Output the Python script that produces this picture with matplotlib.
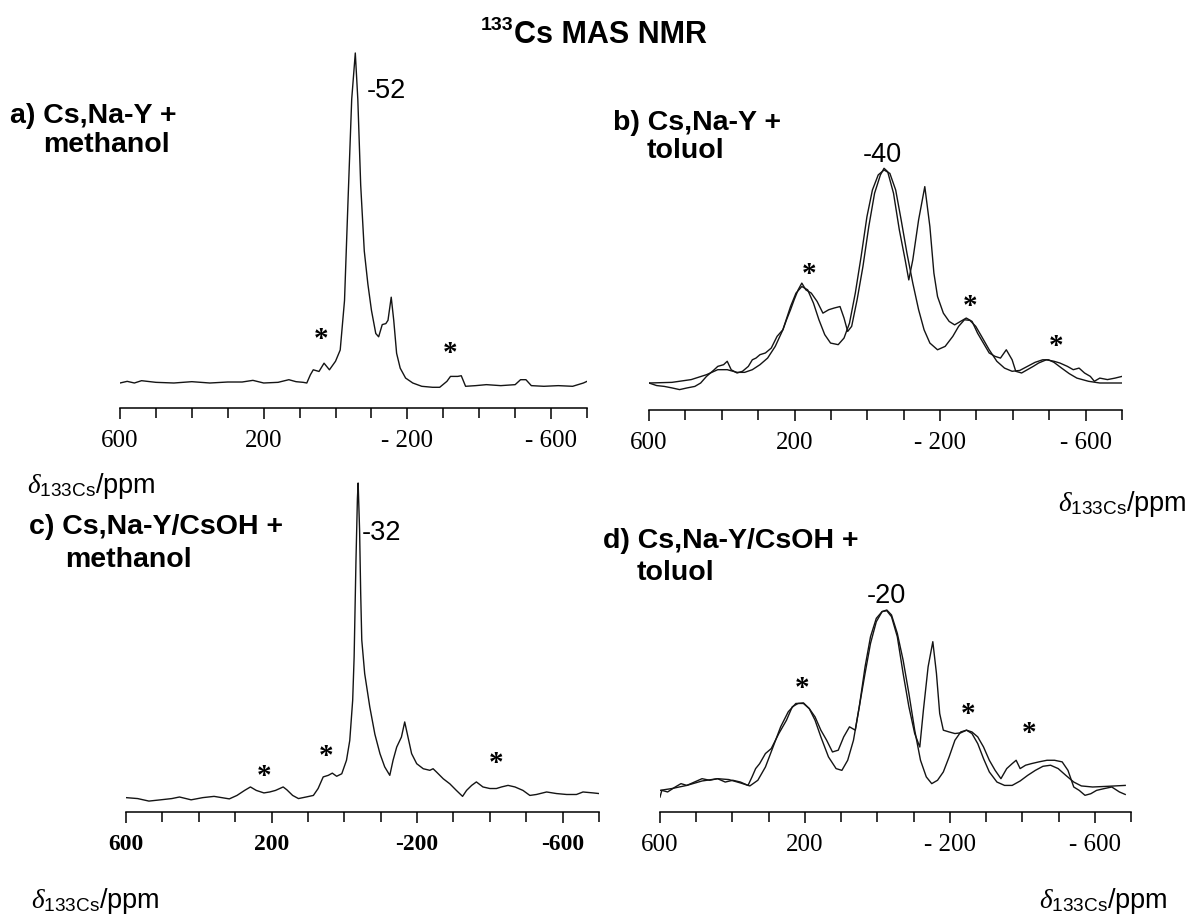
import numpy as np
import matplotlib.pyplot as plt

plt.rcParams['font.family'] = ['Liberation Sans', 'DejaVu Sans']
plt.rcParams['mathtext.fontset'] = 'custom'
plt.rcParams['mathtext.rm'] = 'Liberation Sans'
plt.rcParams['mathtext.it'] = 'Liberation Serif:italic'

W, H = 1195, 917

# a) Cs,Na-Y + methanol
a_ppm = [600, 580, 560, 540, 500, 450, 400, 350, 300, 260, 230, 200, 160, 130, 110, 90, 80, 70, 62, 46,
         32, 17, 0, -13, -25, -35, -45, -55, -62, -70, -80, -90, -100, -112, -120, -130, -140, -146, -155, -162,
         -170, -180, -195, -215, -240, -270, -290, -310, -320, -340, -350, -362, -390, -420, -460, -500, -515, -530, -545, -580,
         -620, -660, -690, -700]
a_int = [0.0, 0.005, 0.0, 0.007, 0.002, 0.0, 0.004, 0.0, 0.003, 0.003, 0.008, 0.0, 0.002, 0.01, 0.004, 0.002, 0.0, 0.025, 0.04, 0.035,
         0.06, 0.04, 0.066, 0.10, 0.25, 0.56, 0.86, 1.0, 0.86, 0.6, 0.4, 0.30, 0.22, 0.15, 0.14, 0.177, 0.18, 0.19, 0.26, 0.19,
         0.09, 0.045, 0.015, 0.0, -0.01, -0.013, -0.013, 0.005, 0.02, 0.02, 0.022, -0.01, -0.008, -0.005, -0.008, -0.005, 0.01, 0.01, -0.008, -0.01,
         -0.008, -0.01, 0.0, 0.005]

# b) Cs,Na-Y + toluol (experiment and fit)
b_ppm = [600, 579, 558, 537, 516, 495, 474, 458, 442, 421, 411, 395, 385, 374, 358, 343, 327, 316, 306, 295,
         280, 264, 248, 232, 222, 211, 201, 190, 180, 169, 154, 138, 122, 106, 91, 75, 64, 54, 43, 28,
         12, -4, -20, -36, -46, -56, -72, -88, -104, -114, -125, -141, -158, -172, -183, -193, -209, -225, -240, -256,
         -272, -288, -303, -319, -335, -351, -366, -382, -398, -408, -424, -440, -456, -471, -492, -513, -529, -550, -566, -582,
         -597, -613, -624, -639, -660, -681, -700]
b_int = [0.0, -0.012, -0.016, -0.023, -0.031, -0.023, -0.016, 0.0, 0.031, 0.062, 0.078, 0.086, 0.102, 0.062, 0.047, 0.055, 0.078, 0.109, 0.117, 0.133,
         0.141, 0.164, 0.219, 0.25, 0.297, 0.344, 0.391, 0.4375, 0.469, 0.4375, 0.422, 0.383, 0.328, 0.344, 0.352, 0.359, 0.305, 0.242, 0.266, 0.391,
         0.547, 0.734, 0.891, 0.977, 1.008, 0.992, 0.891, 0.719, 0.578, 0.484, 0.578, 0.766, 0.922, 0.734, 0.516, 0.406, 0.328, 0.289, 0.273, 0.289,
         0.305, 0.289, 0.234, 0.1875, 0.141, 0.125, 0.117, 0.156, 0.109, 0.055, 0.047, 0.0625, 0.078, 0.094, 0.109, 0.102, 0.094, 0.078, 0.0625, 0.070,
         0.047, 0.031, 0.008, 0.023, 0.016, 0.023, 0.031]
b_fit_ppm = [600, 537, 484, 442, 411, 385, 358, 337, 316, 295, 274, 253, 232, 211, 196, 180, 164, 148, 133, 117,
             101, 80, 64, 49, 33, 17, 1, -14, -30, -46, -62, -78, -93, -109, -125, -141, -156, -172, -193, -214,
             -235, -251, -267, -282, -298, -314, -335, -356, -377, -398, -419, -440, -461, -482, -498, -513, -534, -555, -576, -608,
             -639, -700]
b_fit = [0.0, 0.003, 0.016, 0.039, 0.0625, 0.0625, 0.05, 0.05, 0.0625, 0.086, 0.117, 0.172, 0.25, 0.359, 0.422, 0.453, 0.4375, 0.375, 0.297, 0.227,
         0.1875, 0.18, 0.211, 0.281, 0.422, 0.594, 0.781, 0.906, 0.977, 1.0, 0.984, 0.906, 0.766, 0.609, 0.469, 0.344, 0.25, 0.1875, 0.156, 0.172,
         0.219, 0.266, 0.297, 0.294, 0.266, 0.219, 0.156, 0.102, 0.070, 0.055, 0.059, 0.078, 0.097, 0.109, 0.109, 0.097, 0.070, 0.044, 0.023, 0.008,
         0.0, 0.0]

# c) Cs,Na-Y/CsOH + methanol
c_ppm = [600, 568, 537, 505, 474, 453, 421, 389, 358, 337, 316, 295, 274, 258, 242, 221, 205, 189, 168, 158,
         142, 126, 105, 85, 72, 58, 44, 33, 21, 7, -6, -15, -23, -27, -32, -36, -38, -42, -45, -48,
         -56, -70, -84, -98, -111, -125, -134, -144, -157, -166, -175, -185, -199, -217, -235, -244, -253, -272, -290, -308,
         -325, -336, -350, -363, -381, -400, -418, -432, -450, -469, -491, -510, -528, -556, -583, -611, -638, -656, -684, -700]
c_int = [-0.002, -0.005, -0.013, -0.009, -0.005, 0.0, -0.009, -0.002, 0.002, -0.002, -0.006, 0.005, 0.021, 0.032, 0.021, 0.013, 0.016, 0.021, 0.032, 0.023,
         0.005, -0.005, 0.0, 0.005, 0.027, 0.064, 0.069, 0.076, 0.066, 0.074, 0.117, 0.18, 0.308, 0.446, 0.75, 0.95, 1.0, 0.85, 0.65, 0.5,
         0.393, 0.287, 0.20, 0.138, 0.096, 0.069, 0.117, 0.159, 0.191, 0.239, 0.191, 0.138, 0.106, 0.090, 0.085, 0.090, 0.080, 0.058, 0.042, 0.021,
         0.002, 0.021, 0.037, 0.048, 0.032, 0.027, 0.027, 0.032, 0.037, 0.032, 0.021, 0.005, 0.008, 0.016, 0.011, 0.008, 0.008, 0.016, 0.013, 0.011]

# d) Cs,Na-Y/CsOH + toluol (experiment and fit)
d_ppm = [600, 595, 579, 558, 542, 526, 505, 484, 463, 441, 420, 399, 378, 357, 346, 336, 325, 309, 293, 272,
         251, 235, 219, 204, 188, 172, 156, 140, 124, 108, 93, 77, 61, 50, 34, 19, 3, -13, -26, -39,
         -55, -71, -87, -103, -117, -127, -140, -153, -163, -172, -182, -198, -214, -230, -246, -261, -277, -293, -309, -325,
         -341, -357, -372, -383, -394, -409, -425, -446, -468, -489, -510, -526, -542, -557, -573, -589, -605, -626, -647, -668,
         -684]
d_int = [-0.057, -0.019, -0.028, 0.0, 0.019, 0.009, 0.028, 0.047, 0.038, 0.047, 0.028, 0.038, 0.028, 0.009, 0.057, 0.104, 0.132, 0.189, 0.217, 0.302,
         0.377, 0.453, 0.472, 0.475, 0.443, 0.396, 0.321, 0.264, 0.198, 0.208, 0.283, 0.340, 0.321, 0.453, 0.679, 0.849, 0.953, 0.991, 0.996, 0.962,
         0.849, 0.642, 0.453, 0.302, 0.226, 0.434, 0.679, 0.821, 0.642, 0.415, 0.321, 0.311, 0.302, 0.306, 0.321, 0.311, 0.283, 0.226, 0.151, 0.094,
         0.047, 0.104, 0.132, 0.151, 0.104, 0.123, 0.132, 0.142, 0.151, 0.151, 0.142, 0.094, 0.0, -0.019, -0.047, -0.038, -0.019, -0.009, 0.0, -0.028,
         -0.042]
d_fit_ppm = [600, 568, 526, 484, 441, 410, 378, 352, 330, 309, 288, 267, 246, 225, 204, 188, 172, 156, 135, 114,
             98, 82, 66, 50, 34, 19, 3, -13, -26, -39, -55, -71, -87, -103, -119, -135, -150, -166, -182, -198,
             -214, -230, -246, -261, -277, -293, -309, -330, -351, -372, -394, -415, -436, -457, -478, -499, -520, -542, -563, -594,
             -637, -684]
d_fit = [-0.019, -0.009, 0.009, 0.034, 0.047, 0.042, 0.023, 0.006, 0.038, 0.113, 0.226, 0.340, 0.425, 0.472, 0.472, 0.443, 0.377, 0.283, 0.170, 0.104,
         0.094, 0.151, 0.264, 0.453, 0.642, 0.811, 0.934, 0.991, 1.0, 0.972, 0.868, 0.717, 0.528, 0.321, 0.151, 0.057, 0.019, 0.038, 0.085, 0.170,
         0.264, 0.311, 0.321, 0.302, 0.245, 0.160, 0.085, 0.028, 0.009, 0.009, 0.034, 0.066, 0.094, 0.117, 0.123, 0.104, 0.066, 0.028, 0.006, 0.0,
         0.004, 0.009]

# spinning sidebands (*) and peak labels
a_stars = [(40, 0.15), (-319, 0.11)]
b_stars = [(160, 0.54), (-282, 0.39), (-518, 0.20)]
c_stars = [(221, 0.086), (50, 0.15), (-417, 0.127)]
d_stars = [(208, 0.593), (-250, 0.446), (-418, 0.339)]
tick_vals = [600, 200, -200, -600]
labels_spaced = ['600', '200', '- 200', '- 600']
labels_tight = ['600', '200', '-200', '-600']

LINE = '#141414'


def panel(fig, left, right, axis_y, base, peak, top, ticklabels, bold=False):
    ax = fig.add_axes([left / W, 1 - axis_y / H, (right - left) / W, (axis_y - top) / H])
    scale = base - peak
    ax.set_xlim(600, -700)
    ax.set_ylim((base - axis_y) / scale, (base - top) / scale)
    for s in ['left', 'right', 'top']:
        ax.spines[s].set_visible(False)
    ax.spines['bottom'].set_linewidth(1.1)
    ax.set_yticks([])
    ax.set_xticks(tick_vals)
    ax.set_xticklabels(ticklabels, fontfamily='Liberation Serif',
                       fontsize=17 if bold else 18,
                       fontweight='bold' if bold else 'normal')
    ax.set_xticks(np.arange(-700, 601, 100), minor=True)
    ax.tick_params(axis='x', which='major', length=8, width=1.1, pad=8)
    ax.tick_params(axis='x', which='minor', length=7, width=1.1)
    ax.patch.set_alpha(0)
    return ax


def stars(ax, pts):
    for x, y in pts:
        ax.annotate('*', (x, y), xytext=(0, -10), textcoords='offset points',
                    ha='center', va='baseline', fontsize=21, fontweight='bold',
                    fontfamily='Liberation Serif', annotation_clip=False)


def ftext(fig, x, y, s, **kw):
    fig.text(x / W, 1 - y / H, s, va='baseline', **kw)


fig = plt.figure(figsize=(W / 100, H / 100), dpi=100)

ax_a = panel(fig, 120, 587, 408, 383, 53, 45, labels_spaced)
ax_a.plot(a_ppm, a_int, color=LINE, lw=1.0)
stars(ax_a, a_stars)
ax_a.text(-88, 0.864, '-52', fontsize=19.5, ha='left', va='baseline')

ax_b = panel(fig, 649, 1122, 410, 383, 170, 150, labels_spaced)
ax_b.plot(b_fit_ppm, b_fit, color=LINE, lw=1.0)
ax_b.plot(b_ppm, b_int, color=LINE, lw=1.0)
stars(ax_b, b_stars)
ax_b.text(12, 1.038, '-40', fontsize=19.5, ha='left', va='baseline', clip_on=False)

ax_c = panel(fig, 126, 599, 812, 797, 483, 470, labels_tight, bold=True)
ax_c.plot(c_ppm, c_int, color=LINE, lw=1.0)
stars(ax_c, c_stars)
ax_c.text(-49, 0.818, '-32', fontsize=19.5, ha='left', va='baseline')

ax_d = panel(fig, 660, 1131, 812, 787, 610, 590, labels_spaced)
ax_d.plot(d_fit_ppm, d_fit, color=LINE, lw=1.0)
ax_d.plot(d_ppm, d_int, color=LINE, lw=1.0)
stars(ax_d, d_stars)
ax_d.text(29, 1.04, '-20', fontsize=19.5, ha='left', va='baseline', clip_on=False)

# title and panel captions
ftext(fig, 513, 30, '133', fontsize=14, fontweight='bold', ha='right')
ftext(fig, 514, 43, 'Cs MAS NMR', fontsize=22, fontweight='bold', ha='left')

ftext(fig, 10, 123, 'a) Cs,Na-Y +', fontsize=20.5, fontweight='bold')
ftext(fig, 43, 152, 'methanol', fontsize=20.5, fontweight='bold')
ftext(fig, 613, 130, 'b) Cs,Na-Y +', fontsize=20.5, fontweight='bold')
ftext(fig, 647, 158, 'toluol', fontsize=20.5, fontweight='bold')
ftext(fig, 29, 534, 'c) Cs,Na-Y/CsOH +', fontsize=20.5, fontweight='bold')
ftext(fig, 65, 567, 'methanol', fontsize=20.5, fontweight='bold')
ftext(fig, 603, 548, 'd) Cs,Na-Y/CsOH +', fontsize=20.5, fontweight='bold')
ftext(fig, 637, 580, 'toluol', fontsize=20.5, fontweight='bold')

delta = r'$\mathit{\delta}_{\mathrm{133Cs}}$/ppm'
ftext(fig, 27, 493, delta, fontsize=19.5)
ftext(fig, 1058, 511, delta, fontsize=19.5)
ftext(fig, 31, 908, delta, fontsize=19.5)
ftext(fig, 1039, 908, delta, fontsize=19.5)

fig.savefig('out.png', dpi=100)
